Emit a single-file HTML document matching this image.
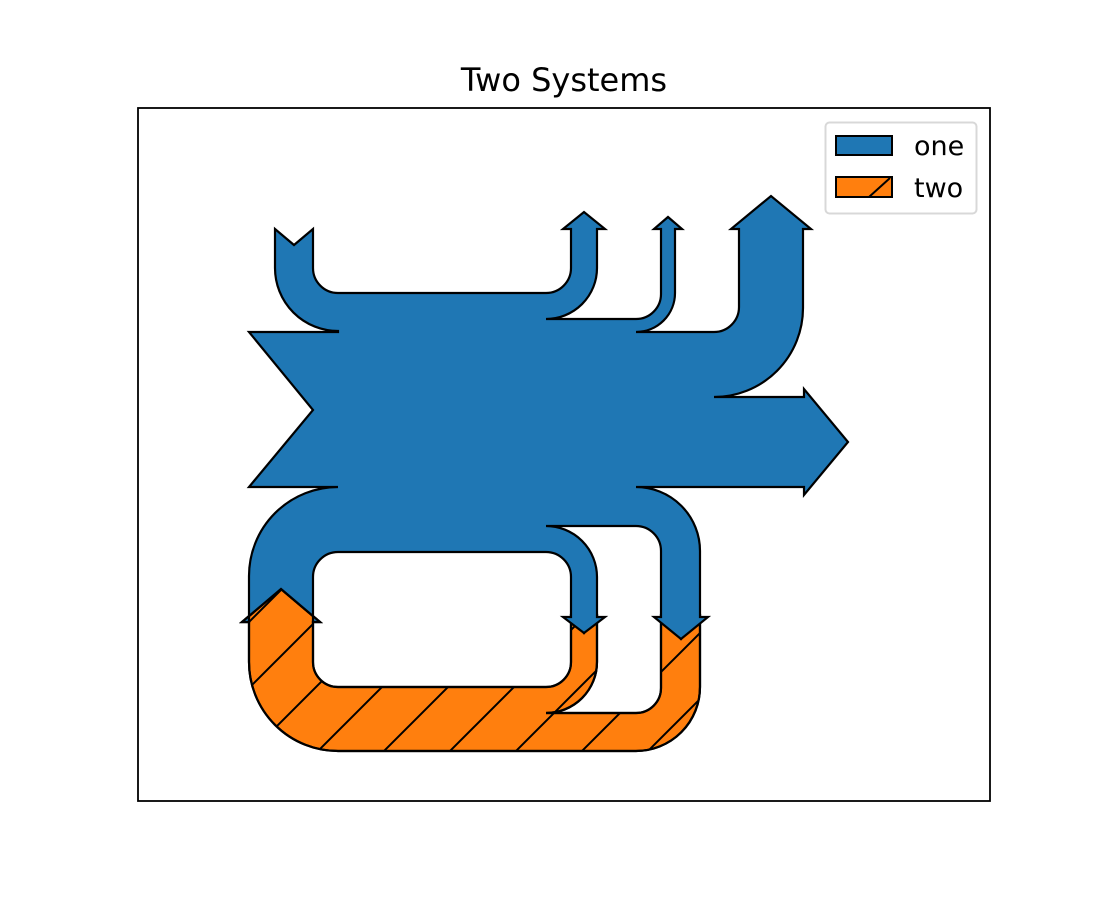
<!DOCTYPE html>
<html><head><meta charset="utf-8"><style>
html,body{margin:0;padding:0;background:#fff;}
svg{display:block;}
text{font-family:"DejaVu Sans","Liberation Sans",sans-serif;}
</style></head><body>
<svg width="1100" height="900" viewBox="0 0 1100 900" xmlns="http://www.w3.org/2000/svg">
<defs>
<pattern id="h" patternUnits="userSpaceOnUse" x="13" y="0" width="66" height="66">
<path d="M-1,67 L67,-1 M-34,34 L34,-34 M32,100 L100,32" stroke="#000" stroke-width="2"/>
</pattern>
</defs>
<rect width="1100" height="900" fill="#fff"/>
<text x="564" y="91" font-size="32" text-anchor="middle">Two Systems</text>
<rect x="138" y="108" width="852" height="693" fill="none" stroke="#000" stroke-width="1.8"/>

<!-- orange -->
<g stroke="#000" stroke-width="2.2" stroke-linejoin="miter">
<path d="M249,622 L242,622 L281,589 L320,622 L313,622 L313,662 A25,25 0 0 0 338,687 L546,687 A25,25 0 0 0 571,662 L571,617 L584,633 L597,617 L597,662 A51,51 0 0 1 546,713 L636,713 A25,25 0 0 0 661,688 L661,617 L681,639 L700,617 L700,687 A64,64 0 0 1 636,751 L338,751 A89,89 0 0 1 249,662 Z" fill="#ff7f0e"/>
<path d="M249,622 L242,622 L281,589 L320,622 L313,622 L313,662 A25,25 0 0 0 338,687 L546,687 A25,25 0 0 0 571,662 L571,617 L584,633 L597,617 L597,662 A51,51 0 0 1 546,713 L636,713 A25,25 0 0 0 661,688 L661,617 L681,639 L700,617 L700,687 A64,64 0 0 1 636,751 L338,751 A89,89 0 0 1 249,662 Z" fill="url(#h)"/>
</g>

<!-- blue -->
<path d="M338,332 L249,332 L313,410 L249,487 L338,487 A89,89 0 0 0 249,576 L249,622 L242,622 L281,589 L320,622 L313,622 L313,577 A25,25 0 0 1 338,552 L546,552 A25,25 0 0 1 571,577 L571,617 L563,617 L584,633 L605,617 L597,617 L597,577 A51,51 0 0 0 546,526 L636,526 A25,25 0 0 1 661,551 L661,617 L654,617 L681,639 L708,617 L700,617 L700,551 A64,64 0 0 0 636,487 L804,487 L804,495 L848,442 L804,389 L804,397 L714,397 A89,89 0 0 0 803,308 L803,229 L811,229 L771,196 L731,229 L739,229 L739,307 A25,25 0 0 1 714,332 L636,332 A39,39 0 0 0 675,293 L675,229 L682,229 L668,217 L654,229 L661,229 L661,294 A25,25 0 0 1 636,319 L546,319 A51,51 0 0 0 597,268 L597,229 L605,229 L584,212 L563,229 L571,229 L571,268 A25,25 0 0 1 546,293 L338,293 A25,25 0 0 1 313,268 L313,229 L294,245 L275,229 L275,268 A63,63 0 0 0 338,331 Z" fill="#1f77b4" stroke="#000" stroke-width="2.2" stroke-linejoin="miter"/>

<!-- legend -->
<rect x="825.5" y="122.5" width="151" height="91" rx="4" fill="#fff" stroke="#d8d8d8" stroke-width="2"/>
<rect x="836" y="136" width="56" height="19" fill="#1f77b4" stroke="#000" stroke-width="2"/>
<rect x="836" y="177" width="56" height="20" fill="#ff7f0e" stroke="#000" stroke-width="2"/>
<line x1="869" y1="197" x2="890" y2="178" stroke="#000" stroke-width="2"/>
<text x="914" y="155" font-size="27">one</text>
<text x="914" y="197" font-size="27">two</text>
</svg>
</body></html>
